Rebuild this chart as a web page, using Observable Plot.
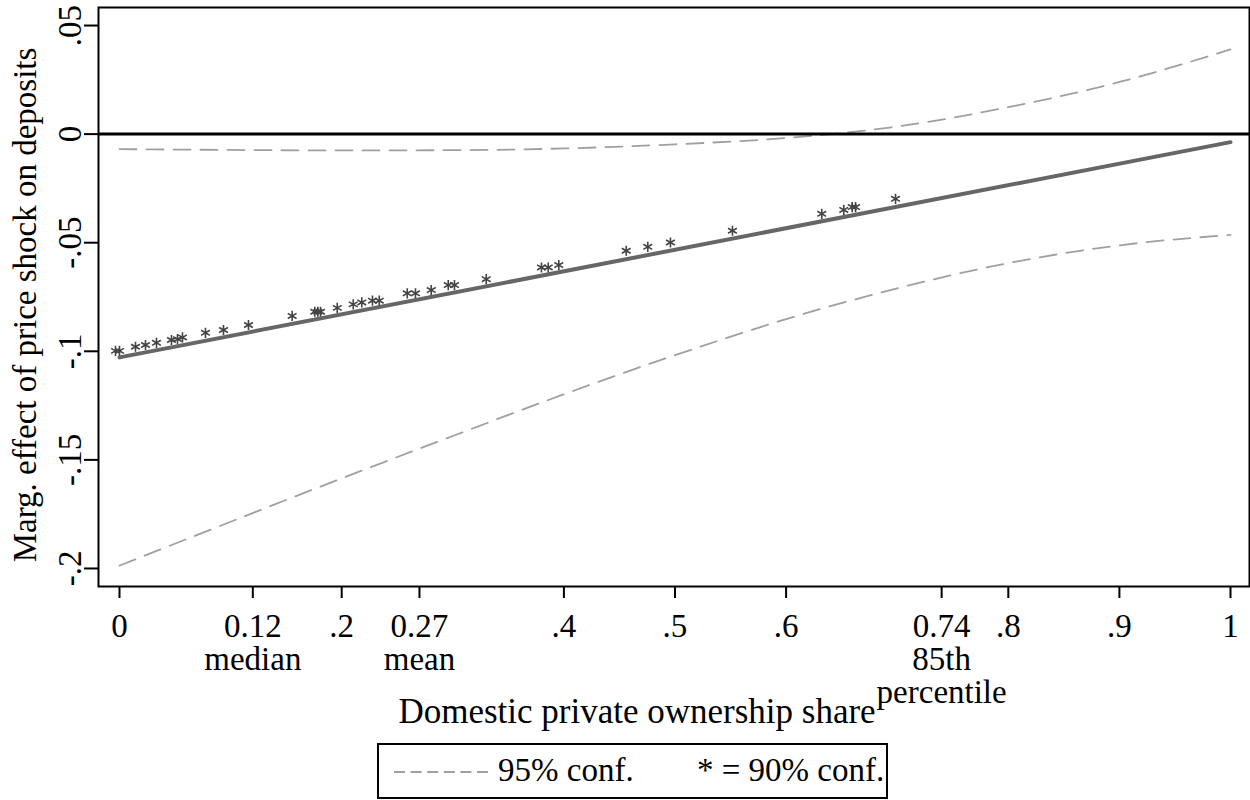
<!DOCTYPE html>
<html><head><meta charset="utf-8">
<script src="https://cdn.jsdelivr.net/npm/d3@7"></script>
<script src="https://cdn.jsdelivr.net/npm/@observablehq/plot@0.6"></script>
<style>
body{margin:0;background:#fff;}
#wrap{position:relative;width:1250px;height:800px;font-family:"Liberation Serif","Times New Roman",serif;}
#legend{position:absolute;left:376px;top:733px;}
</style></head><body><div id="wrap"></div>
<script>
// 95% confidence band
const ciX     = [0, 0.1, 0.2, 0.3, 0.4, 0.5, 0.6, 0.7, 0.8, 0.9, 1.0];
const ciUpper = [-0.0069, -0.0073, -0.0075, -0.0074, -0.0066, -0.0047, -0.0018, 0.0035, 0.0124, 0.0240, 0.0390];
const ciLower = [-0.1987, -0.1785, -0.1585, -0.1390, -0.1198, -0.1018, -0.0852, -0.0710, -0.0594, -0.0512, -0.0464];
// fitted marginal effect
const fitX = [0, 1];
const fitY = [-0.1028, -0.0037];
// significance markers (* = 90% conf.)
const starX = [-0.0036, 0, 0.0144, 0.0234, 0.0333, 0.0468, 0.0522, 0.0567, 0.0774, 0.0936, 0.1161,
  0.1554, 0.1758, 0.1785, 0.1809, 0.1960, 0.2104, 0.2181, 0.2277, 0.2338, 0.2590, 0.2664, 0.2806,
  0.2959, 0.3015, 0.3301, 0.3798, 0.3859, 0.3954, 0.4561, 0.4755, 0.4959, 0.5517, 0.6321, 0.6519,
  0.6595, 0.6625, 0.6985];
const starY = [-0.0998, -0.0998, -0.0979, -0.0971, -0.0961, -0.0948, -0.0944, -0.0936, -0.0915, -0.0902, -0.0879,
  -0.0837, -0.0818, -0.0818, -0.0818, -0.0800, -0.0784, -0.0775, -0.0767, -0.0767, -0.0733, -0.0733, -0.0718,
  -0.0695, -0.0695, -0.0668, -0.0614, -0.0614, -0.0603, -0.0537, -0.0519, -0.0499, -0.0445, -0.0367, -0.0349,
  -0.0336, -0.0336, -0.0298];
// ticks
const xTicks = [0, 0.12, 0.2, 0.27, 0.4, 0.5, 0.6, 0.74, 0.8, 0.9, 1];
const xTickLabels = ["0", "0.12\nmedian", ".2", "0.27\nmean", ".4", ".5", ".6", "0.74\n85th\npercentile", ".8", ".9", "1"];
const yTicks = [0.05, 0, -0.05, -0.1, -0.15, -0.2];
const yTickLabels = [".05", "0", "-.05", "-.1", "-.15", "-.2"];
const xTitle = "Domestic private ownership share";
const yTitle = "Marg. effect of price shock on deposits";
const legendItems = ["95% conf.", "* = 90% conf."];

const ci = ciX.map((x, i) => ({x, upper: ciUpper[i], lower: ciLower[i]}));
const fit = fitX.map((x, i) => ({x, y: fitY[i]}));
const stars = starX.map((x, i) => ({x, y: starY[i]}));

const chart = Plot.plot({
  width: 1250, height: 733,
  marginLeft: 98, marginRight: 1, marginTop: 7, marginBottom: 147,
  style: {fontFamily: '"Liberation Serif", "Times New Roman", serif', fontSize: "33px", color: "#000", background: "#fff"},
  x: {domain: [-0.0189, 1.0171]},
  y: {domain: [-0.2083, 0.0583]},
  marks: [
    Plot.line(ci, {x: "x", y: "upper", stroke: "#a0a0a0", strokeWidth: 1.8, strokeDasharray: "17,10", curve: "monotone-x"}),
    Plot.line(ci, {x: "x", y: "lower", stroke: "#a0a0a0", strokeWidth: 1.8, strokeDasharray: "17,10", curve: "monotone-x"}),
    Plot.ruleY([0], {stroke: "#000", strokeWidth: 3}),
    Plot.line(fit, {x: "x", y: "y", stroke: "#666", strokeWidth: 4}),
    Plot.dot(stars, {x: "x", y: "y", symbol: "asterisk", r: 4.8, stroke: "#444", strokeWidth: 1.6}),
    Plot.axisX({ticks: xTicks, tickFormat: d => xTickLabels[xTicks.indexOf(d)], tickSize: 12, tickPadding: 15, lineHeight: 1, label: null, strokeWidth: 2}),
    Plot.axisY({ticks: yTicks, tickFormat: d => yTickLabels[yTicks.indexOf(d)], tickSize: 14, tickPadding: 4, tickRotate: -90, textAnchor: "middle", lineAnchor: "bottom", label: null, strokeWidth: 2}),
    Plot.frame({stroke: "#000", strokeWidth: 2}),
    Plot.text([xTitle], {text: d => d, frameAnchor: "bottom", dx: -37, dy: 136, fontSize: 35, lineAnchor: "bottom", textAnchor: "middle"}),
    Plot.text([yTitle], {text: d => d, frameAnchor: "left", dx: -63, dy: 8, rotate: -90, lineAnchor: "bottom", textAnchor: "middle"})
  ]
});
document.getElementById("wrap").appendChild(chart);

// legend below the plot
const ns = "http://www.w3.org/2000/svg";
const lg = document.createElementNS(ns, "svg");
lg.setAttribute("id", "legend");
lg.setAttribute("width", 514); lg.setAttribute("height", 67);
const ff = "Liberation Serif, Times New Roman, serif";
lg.innerHTML = `
  <rect x="2" y="11" width="509" height="54" fill="#fff" stroke="#000" stroke-width="2"/>
  <line x1="18" x2="112" y1="39" y2="39" stroke="#a0a0a0" stroke-width="1.8" stroke-dasharray="11,5.6"/>
  <text x="122" y="48" font-size="33" font-family="${ff}" fill="#000">${legendItems[0]}</text>
  <text x="321" y="48" font-size="33" font-family="${ff}" fill="#000">${legendItems[1]}</text>`;
document.getElementById("wrap").appendChild(lg);
</script>
</body></html>
